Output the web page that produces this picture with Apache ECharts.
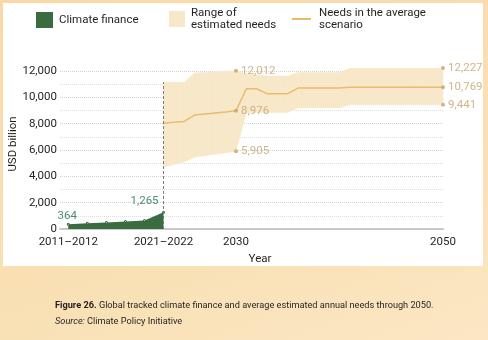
<!DOCTYPE html>
<html>
<head>
<meta charset="utf-8">
<script src="https://cdn.jsdelivr.net/npm/echarts@6/dist/echarts.min.js"></script>
<style>
  html, body { margin: 0; padding: 0; }
  #wrap {
    position: relative; width: 488px; height: 340px;
    background: linear-gradient(160deg, #fad9a6 0%, #f9e0b4 60%, #fbe7c4 100%);
  }
  #panel { position: absolute; left: 3px; top: 3px; width: 480px; height: 263px; background: #fff; }
  #chart { position: absolute; left: 0; top: 0; width: 488px; height: 340px; }
</style>
</head>
<body>
<div id="wrap">
  <div id="panel"></div>
  <div id="chart"></div>
</div>
<script>
// climate finance, biennial averages (x = position on the year axis)
const financePeriods = ['2011–2012', '2013–2014', '2015–2016', '2017–2018', '2019–2020', '2021–2022'];
const financeX = [2013.8, 2015.64, 2017.48, 2019.32, 2021.16, 2023];
const financeValues = [364, 430, 495, 565, 650, 1265];

// estimated needs; first point sits on the 2021–2022 mark
const needYears = [2023, 2024, 2025, 2026, 2027, 2028, 2029, 2030, 2031, 2032, 2033, 2034, 2035, 2036,
  2037, 2038, 2039, 2040, 2041, 2042, 2043, 2044, 2045, 2046, 2047, 2048, 2049, 2050];
const needsLow = [4700, 4900, 5100, 5450, 5560, 5680, 5790, 5905, 8850, 8850, 8850, 8850, 8850, 9200,
  9200, 9200, 9200, 9200, 9441, 9441, 9441, 9441, 9441, 9441, 9441, 9441, 9441, 9441];
const needsAvg = [8040, 8100, 8170, 8650, 8730, 8810, 8890, 8976, 10650, 10650, 10280, 10280, 10280, 10700,
  10700, 10700, 10700, 10700, 10769, 10769, 10769, 10769, 10769, 10769, 10769, 10769, 10769, 10769];
const needsHigh = [11150, 11150, 11150, 11850, 11890, 11930, 11970, 12012, 11800, 11700, 11620, 11620, 11620, 11880,
  11880, 11880, 11880, 11880, 12200, 12200, 12200, 12200, 12200, 12200, 12200, 12200, 12200, 12227];

const labelledYears = [2030, 2050];
const xTickValues = [2013.8, 2023, 2030, 2050];
const xTickLabels = ['2011–2012', '2021–2022', '2030', '2050'];

const FONT = "Roboto, 'Liberation Sans', sans-serif";
const INK = '#231f20';
const GREEN = '#3b6b41';
const BAND = '#f8e8ca';
const AVG = '#e9bc6c';
const TAN = '#c4a36e';

const fmt = v => Math.round(v).toLocaleString('en-US');

const financeData = financeX.map((x, i) => {
  const item = {value: [x, financeValues[i]], name: financePeriods[i]};
  if (i === 0 || i === financeX.length - 1) {
    item.label = {
      show: true,
      position: 'top',
      distance: i === 0 ? 1 : 4,
      offset: i === 0 ? [-1, 0] : [-19, 0],
      color: '#4f8a73',
      fontSize: 11.5,
      fontFamily: FONT,
      formatter: p => fmt(p.value[1]),
    };
  }
  return item;
});

// one quad per year step of the needs range
const bandData = needYears.slice(0, -1).map((y, i) =>
  [y, needsLow[i], needsHigh[i], needYears[i + 1], needsLow[i + 1], needsHigh[i + 1]]);

const markDots = [];
labelledYears.forEach(y => {
  const i = needYears.indexOf(y);
  markDots.push([y, needsHigh[i]], [y, needsAvg[i]], [y, needsLow[i]]);
});

const chart = echarts.init(document.getElementById('chart'), null, {renderer: 'canvas'});
chart.setOption({
  animation: false,
  backgroundColor: 'transparent',
  textStyle: {fontFamily: FONT},
  graphic: [
    {
      type: 'text', x: 13, y: 144, rotation: Math.PI / 2,
      style: {
        text: 'USD billion', fontSize: 11.5, fontFamily: FONT, fill: INK,
        textAlign: 'center', textVerticalAlign: 'middle',
      },
    },
    {
      type: 'text', left: 55, top: 301,
      style: {
        text: '{b|Figure 26.} Global tracked climate finance and average estimated annual needs through 2050.',
        fontSize: 9.2, fontFamily: FONT, fill: INK,
        rich: {b: {fontWeight: 'bold', fontSize: 9.2, fontFamily: FONT, fill: INK}},
      },
    },
    {
      type: 'text', left: 55, top: 317,
      style: {
        text: '{i|Source:} Climate Policy Initiative',
        fontSize: 9.2, fontFamily: FONT, fill: INK,
        rich: {i: {fontStyle: 'italic', fontSize: 9.2, fontFamily: FONT, fill: INK}},
      },
    },
  ],
  legend: [
    {
      left: 36, top: 12, padding: 0, itemWidth: 17, itemHeight: 16, itemGap: 0,
      data: [{name: 'Climate finance', icon: 'rect'}],
      textStyle: {fontSize: 11.5, color: INK, fontFamily: FONT, padding: [0, 0, 0, 1]},
    },
    {
      left: 169, top: 7, padding: 0, itemWidth: 16, itemHeight: 16, itemGap: 0,
      data: [{name: 'Range of\nestimated needs', icon: 'rect', itemStyle: {color: BAND}}],
      textStyle: {fontSize: 11.5, lineHeight: 12, color: INK, fontFamily: FONT, padding: [0, 0, 0, 1]},
    },
    {
      left: 292, top: 7, padding: 0, itemWidth: 19, itemHeight: 2, itemGap: 0,
      data: [{name: 'Needs in the average\nscenario', icon: 'rect'}],
      textStyle: {fontSize: 11.5, lineHeight: 12, color: INK, fontFamily: FONT, padding: [0, 0, 0, 3]},
    },
  ],
  grid: {left: 60, right: 45, top: 71, bottom: 111, outerBoundsMode: 'none'},
  xAxis: {
    type: 'value',
    min: 2013,
    max: 2050,
    name: 'Year',
    nameLocation: 'middle',
    nameGap: 24,
    nameTextStyle: {fontSize: 11.5, color: INK, fontFamily: FONT, padding: [0, 0, 0, 17]},
    axisLine: {lineStyle: {color: '#c9c9c9', width: 2}},
    axisTick: {show: false},
    splitLine: {show: false},
    axisLabel: {
      customValues: xTickValues,
      formatter: v => xTickLabels[xTickValues.indexOf(v)] || '',
      alignMinLabel: 'center',
      alignMaxLabel: 'center',
      fontSize: 11.5, color: INK, fontFamily: FONT, margin: 7,
    },
  },
  yAxis: {
    type: 'value',
    min: 0,
    max: 12000,
    interval: 2000,
    axisLine: {show: false},
    axisTick: {show: false},
    axisLabel: {formatter: v => fmt(v), fontSize: 11.5, color: INK, fontFamily: FONT, margin: 3},
    splitLine: {lineStyle: {color: '#d2d2d2', type: 'dotted', width: 1}},
    minorTick: {show: false, splitNumber: 2},
    minorSplitLine: {show: true, lineStyle: {color: '#dedede', type: 'dotted', width: 1}},
  },
  series: [
    {
      name: 'Range of\nestimated needs',
      type: 'custom',
      clip: false,
      itemStyle: {color: BAND},
      encode: {x: [0, 3], y: [1, 2, 4, 5]},
      data: bandData,
      renderItem: (params, api) => {
        const a = api.coord([api.value(0), api.value(1)]);
        const b = api.coord([api.value(0), api.value(2)]);
        const c = api.coord([api.value(3), api.value(5)]);
        const d = api.coord([api.value(3), api.value(4)]);
        return {
          type: 'polygon',
          shape: {points: [a, b, c, d]},
          style: {fill: BAND, stroke: BAND, lineWidth: 0.6},
        };
      },
      z: 1,
      markLine: {
        silent: true,
        symbol: 'none',
        label: {show: false},
        lineStyle: {color: '#7a7a7a', type: [3, 2], width: 1},
        data: [[{coord: [needYears[0], 0]}, {coord: [needYears[0], needsHigh[0]]}]],
      },
    },
    {
      name: 'Climate finance',
      type: 'line',
      data: financeData,
      symbolSize: 1,
      itemStyle: {color: GREEN},
      lineStyle: {width: 0},
      areaStyle: {color: GREEN, opacity: 1},
      z: 3,
    },
    {
      name: 'Needs in the average\nscenario',
      type: 'line',
      clip: false,
      data: needYears.map((y, i) => [y, needsAvg[i]]),
      symbol: 'none',
      itemStyle: {color: AVG},
      lineStyle: {color: AVG, width: 1.5},
      z: 4,
    },
    {
      name: 'points',
      type: 'scatter',
      clip: false,
      data: markDots,
      symbolSize: 4,
      itemStyle: {color: TAN},
      label: {
        show: true,
        position: 'right',
        distance: 3,
        color: TAN,
        fontSize: 11.5,
        fontFamily: FONT,
        formatter: p => fmt(p.value[1]),
      },
      z: 5,
    },
  ],
});
</script>
</body>
</html>
